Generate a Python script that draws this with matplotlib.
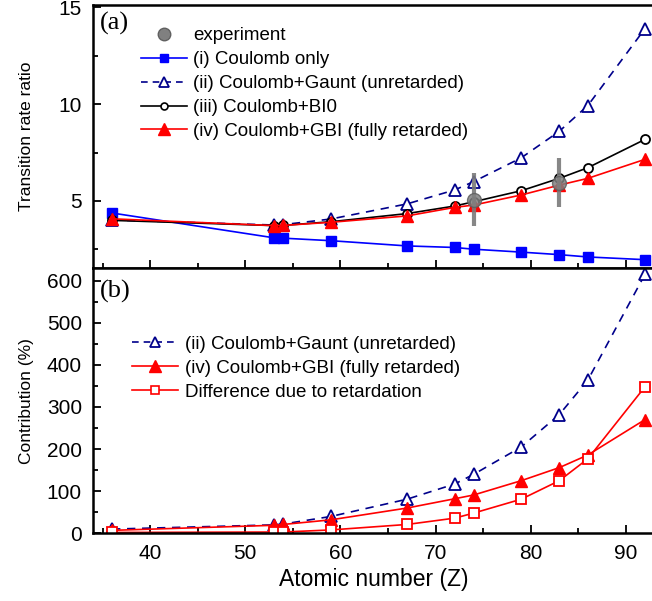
import numpy as np
import matplotlib
matplotlib.use("Agg")
import matplotlib.pyplot as plt
from matplotlib.ticker import MultipleLocator
from matplotlib.lines import Line2D

plt.rcParams['font.family'] = ['Liberation Sans', 'DejaVu Sans']

# atomic numbers
Z = [36, 53, 54, 59, 67, 72, 74, 79, 83, 86, 92]

# (a) transition rate ratio
coulomb = [4.38, 3.10, 3.08, 2.95, 2.68, 2.60, 2.51, 2.36, 2.23, 2.11, 1.97]
gaunt = [4.02, 3.76, 3.78, 4.07, 4.85, 5.57, 6.00, 7.23, 8.60, 9.93, 13.90]
bi0 = [4.00, 3.73, 3.74, 3.93, 4.35, 4.74, 4.96, 5.53, 6.17, 6.72, 8.18]
gbi = [4.08, 3.73, 3.74, 3.90, 4.23, 4.67, 4.79, 5.31, 5.82, 6.17, 7.15]

exp_Z = [74, 83]
exp_val = [5.07, 5.95]
exp_err = [1.35, 1.28]

# (b) contribution (%)
contr_gaunt = [10, 20, 22, 40, 81, 117, 140, 205, 282, 364, 615]
contr_gbi = [7, 19, 21, 32, 60, 82, 91, 125, 156, 186, 270]
contr_diff = [2, 3, 3, 8, 21, 36, 48, 81, 125, 177, 348]

W, H = 652, 601
fig = plt.figure(figsize=(W / 100, H / 100), dpi=100)

left = 93 / W
width = (654.5 - 93) / W
ax1 = fig.add_axes([left, 1 - 268 / H, width, (268 - 5) / H])
ax2 = fig.add_axes([left, 1 - 533.3 / H, width, (533.3 - 268) / H])

fs = 13.5
tfs = 15
navy = '#00008B'
red = '#FF0000'
blue = '#0000FF'
leg_kw = dict(frameon=False, fontsize=fs, handlelength=2.45, handletextpad=0.35,
              labelspacing=0.36, borderaxespad=0.0, borderpad=0.0)

# top panel
ax1.errorbar(exp_Z, exp_val, yerr=exp_err, fmt='none', ecolor='#7a7a7a',
             elinewidth=3, capsize=0, alpha=0.9, zorder=5)
ax1.plot(exp_Z, exp_val, 'o', ms=10, mfc='#808080', mec='#606060', alpha=0.85,
         zorder=6)
ax1.plot(Z, coulomb, '-s', color=blue, ms=7, lw=1.2)
ax1.plot(Z, gaunt, '--^', color=navy, mfc='white', mec=navy, ms=8, mew=1.3,
         lw=1.2, dashes=(5, 4))
ax1.plot(Z, bi0, '-o', color='black', mfc='white', ms=6.5, mew=1.3, lw=1.2)
ax1.plot(Z, gbi, '-^', color=red, ms=9, lw=1.2)

h1 = [
    Line2D([], [], ls='none', marker='o', ms=9, mfc='#808080', mec='#606060'),
    Line2D([], [], color=blue, marker='s', ms=6, lw=1.2),
    Line2D([], [], color=navy, marker='^', ms=6.5, mfc='white', mew=1.3,
           lw=1.2, ls='--', dashes=(4, 3)),
    Line2D([], [], color='black', marker='o', ms=5, mfc='white', mew=1.2, lw=1.2),
    Line2D([], [], color=red, marker='^', ms=8, lw=1.2),
]
l1 = ['experiment', '(i) Coulomb only', '(ii) Coulomb+Gaunt (unretarded)',
      '(iii) Coulomb+BI0', '(iv) Coulomb+GBI (fully retarded)']
ax1.legend(h1, l1, loc='upper left', bbox_to_anchor=(0.085, 0.915), **leg_kw)

ax1.set_xlim(34, 93)
ax1.set_ylim(1.54, 15.12)
ax1.yaxis.set_major_locator(MultipleLocator(5))
ax1.yaxis.set_minor_locator(MultipleLocator(2.5))
ax1.set_ylabel('Transition rate ratio', fontsize=12.5, labelpad=18)
ax1.tick_params(labelbottom=False)
ax1.text(0.013, 0.975, '(a)', transform=ax1.transAxes, fontsize=19,
         family='Liberation Serif', va='top')

# bottom panel
ax2.plot(Z, contr_gaunt, '--^', color=navy, mfc='white', mec=navy, ms=8,
         mew=1.3, lw=1.2, dashes=(5, 4))
ax2.plot(Z, contr_gbi, '-^', color=red, ms=9, lw=1.2)
ax2.plot(Z, contr_diff, '-s', color=red, mfc='white', ms=6.5, mew=1.3, lw=1.2)

h2 = [
    Line2D([], [], color=navy, marker='^', ms=6.5, mfc='white', mew=1.3,
           lw=1.2, ls='--', dashes=(4, 3)),
    Line2D([], [], color=red, marker='^', ms=8, lw=1.2),
    Line2D([], [], color=red, marker='s', ms=5.5, mfc='white', mew=1.2, lw=1.2),
]
l2 = ['(ii) Coulomb+Gaunt (unretarded)', '(iv) Coulomb+GBI (fully retarded)',
      'Difference due to retardation']
ax2.legend(h2, l2, loc='upper left', bbox_to_anchor=(0.07, 0.745), **leg_kw)

ax2.set_xlim(34, 93)
ax2.set_ylim(0, 630)
ax2.yaxis.set_major_locator(MultipleLocator(100))
ax2.yaxis.set_minor_locator(MultipleLocator(50))
ax2.set_xlabel('Atomic number (Z)', fontsize=16.5, labelpad=3)
ax2.set_ylabel('Contribution (%)', fontsize=12.5, labelpad=9)
ax2.text(0.013, 0.955, '(b)', transform=ax2.transAxes, fontsize=19,
         family='Liberation Serif', va='top')

for ax in (ax1, ax2):
    ax.xaxis.set_major_locator(MultipleLocator(10))
    ax.xaxis.set_minor_locator(MultipleLocator(5))
    ax.tick_params(which='both', direction='in', top=False, right=False,
                   labelsize=tfs, width=1.3)
    ax.tick_params(which='major', length=6, pad=8)
    ax.tick_params(which='minor', length=3.5)
    for sp in ax.spines.values():
        sp.set_linewidth(1.8)

fig.savefig('out.png', dpi=100)
